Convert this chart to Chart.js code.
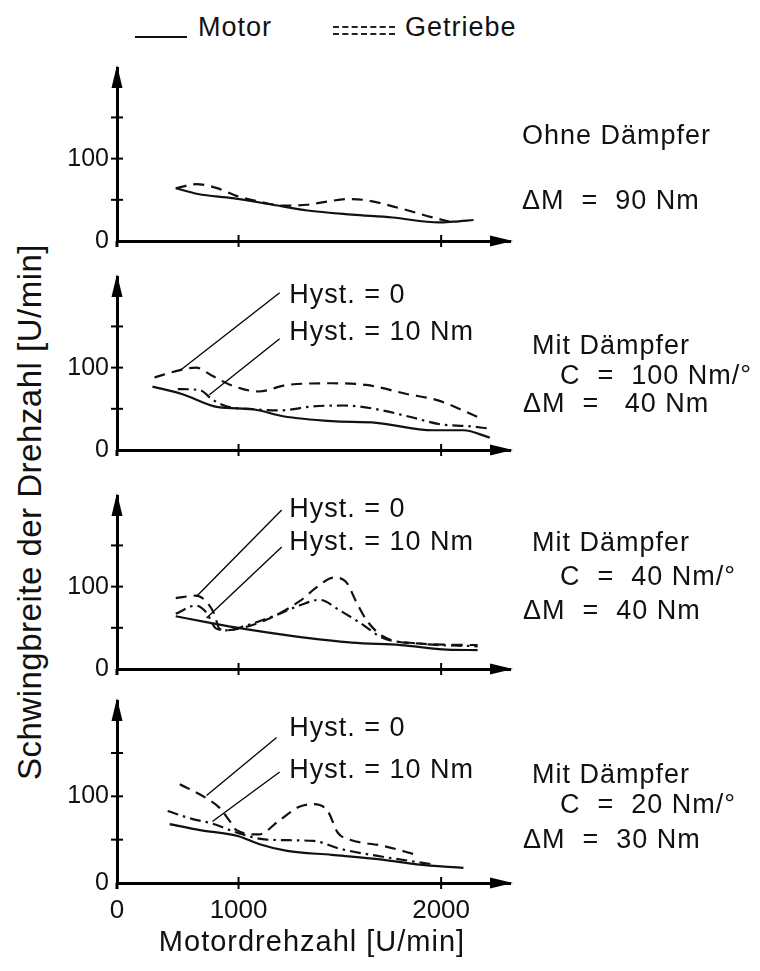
<!DOCTYPE html>
<html lang="de">
<head>
<meta charset="utf-8">
<title>Schwingbreite der Drehzahl</title>
<script src="https://cdn.jsdelivr.net/npm/chart.js@4.4.1/dist/chart.umd.min.js"></script>
<style>
  html, body { margin: 0; padding: 0; background: #fff; }
  body { width: 760px; height: 971px; position: relative; overflow: hidden;
         font-family: 'Liberation Sans', Arial, sans-serif; color: #111; }
  canvas.panel { position: absolute; left: 0; }
  .txt { position: absolute; white-space: pre; line-height: 1; letter-spacing: 1px; }
  .swatch { position: absolute; }
  #ytitle { position: absolute; left: 29px; top: 512px; white-space: nowrap;
            transform: translate(-50%, -50%) rotate(-90deg); font-size: 33px; letter-spacing: 0.5px; line-height: 1; }
</style>
</head>
<body>
<div id="ytitle">Schwingbreite der Drehzahl [U/min]</div>
<div class="swatch" style="left:135px;top:36px;width:52px;height:2px;background:#111"></div>
<div class="swatch" style="left:333px;top:26px;width:62px;height:5px;border-top:2px dashed #222;border-bottom:2px dashed #222"></div>

<canvas class="panel" id="p1"></canvas>
<canvas class="panel" id="p2"></canvas>
<canvas class="panel" id="p3"></canvas>
<canvas class="panel" id="p4"></canvas>

<script>
// --- Daten -------------------------------------------------------------
// Achsen
const xTickValues = [1000, 2000];
const yTickValues = [50, 100, 150];
const yLabelValues = [0, 100];
// Die Drehzahlachse ist am Ursprung unterbrochen: der Ursprung steht für ca. 400 U/min
const xOrigin = 400;

// Ohne Dämpfer
const p1MotorRpm = [690, 800, 970, 1170, 1340, 1560, 1760, 1990, 2060, 2160];
const p1Motor = [64, 57, 52, 44, 37, 32, 28.5, 22.5, 23.5, 25.5];
const p1GetriebeRpm = [690, 790, 890, 1000, 1100, 1220, 1340, 1440, 1540, 1630, 1800, 1960, 2040];
const p1Getriebe = [64, 69, 64.5, 54, 48, 43, 44, 48, 51, 49.5, 39.5, 28.5, 23.5];

// Mit Dämpfer, C = 100 Nm/°
const p2MotorRpm = [575, 720, 900, 1070, 1220, 1460, 1680, 1960, 2110, 2240];
const p2Motor = [77, 68, 52, 49.5, 41, 35, 33, 24, 24, 15];
const p2Hyst0Rpm = [585, 710, 790, 870, 970, 1100, 1240, 1460, 1630, 1830, 1980, 2190];
const p2Hyst0 = [88, 97, 100, 90, 78, 71, 79, 81, 79, 68, 60.5, 39];
const p2Hyst10Rpm = [700, 810, 870, 940, 1070, 1200, 1370, 1520, 1660, 1850, 2000, 2130, 2240];
const p2Hyst10 = [74, 72.5, 61.5, 53, 49.5, 48, 53, 54, 50.5, 40, 31, 29, 26];

// Mit Dämpfer, C = 40 Nm/°
const p3MotorRpm = [690, 860, 1020, 1270, 1560, 1800, 2030, 2180];
const p3Motor = [64, 56, 49, 40, 32, 29, 23.5, 23];
const p3Hyst0Rpm = [690, 790, 840, 880, 905, 940, 1020, 1140, 1300, 1390, 1470, 1530, 1580, 1630, 1710, 1880, 2180];
const p3Hyst0 = [86, 89, 82, 67, 49, 47, 50, 60, 82, 100, 111, 106, 82, 60, 40, 31, 29];
const p3Hyst10Rpm = [690, 790, 840, 890, 940, 1040, 1170, 1300, 1400, 1500, 1600, 1710, 1880, 2180];
const p3Hyst10 = [67, 77, 69, 49, 47, 53, 64, 77, 84, 71, 56, 38, 31, 27.5];

// Mit Dämpfer, C = 20 Nm/°
const p4MotorRpm = [660, 810, 1000, 1100, 1240, 1460, 1710, 1880, 2110];
const p4Motor = [68, 61, 54, 45, 37, 32.5, 27, 21.5, 17.5];
const p4Hyst0Rpm = [710, 840, 905, 955, 990, 1100, 1200, 1300, 1370, 1440, 1490, 1550, 1710, 1880];
const p4Hyst0 = [114, 98, 87, 72, 61, 56, 72, 88, 91, 83, 58, 50, 43, 32.5];
const p4Hyst10Rpm = [650, 770, 870, 1000, 1140, 1370, 1500, 1680, 1960];
const p4Hyst10 = [83, 74, 68.5, 57.5, 50, 48.5, 39.5, 31.5, 21.5];

// --- Darstellung --------------------------------------------------------
const FONT = "'Liberation Sans', Arial, sans-serif";
const X_MAX = 2340, Y_MAX = 210;
const PLOT_H = 193, PAD_TOP = 12;

const SOLID = [];
const DASHED = [11, 7];
const DASHDOT = [11, 5, 2.5, 5];

function pts(xs, ys) {
    return xs.map((x, i) => ({ x: x, y: ys[i] }));
}

function line(label, xs, ys, dash) {
    return {
        label: label,
        data: pts(xs, ys),
        borderColor: '#111',
        borderWidth: 2.2,
        borderDash: dash,
        pointRadius: 0,
        fill: false,
        cubicInterpolationMode: 'monotone'
    };
}

// Pfeile, Teilstriche, Hinweislinien
const axisDeco = {
    id: 'axisDeco',
    afterDraw(chart, args, opts) {
        const { ctx, chartArea: a, scales: { x, y } } = chart;
        ctx.save();
        ctx.fillStyle = '#000';
        ctx.strokeStyle = '#000';

        // Pfeilspitzen
        ctx.beginPath();
        ctx.moveTo(a.left, a.top - 3);
        ctx.lineTo(a.left - 5.5, a.top + 20);
        ctx.lineTo(a.left + 5.5, a.top + 20);
        ctx.closePath();
        ctx.fill();
        ctx.beginPath();
        ctx.moveTo(a.right + 3, a.bottom);
        ctx.lineTo(a.right - 20, a.bottom - 5.5);
        ctx.lineTo(a.right - 20, a.bottom + 5.5);
        ctx.closePath();
        ctx.fill();

        // Achse etwas unter den Ursprung verlängern
        ctx.lineWidth = 3;
        ctx.beginPath();
        ctx.moveTo(a.left, a.bottom);
        ctx.lineTo(a.left, a.bottom + 6);
        ctx.stroke();

        // Teilstriche über die Achse
        ctx.lineWidth = 2;
        yTickValues.forEach(v => {
            const py = y.getPixelForValue(v);
            ctx.beginPath();
            ctx.moveTo(a.left - 6, py);
            ctx.lineTo(a.left + 6, py);
            ctx.stroke();
        });
        xTickValues.forEach(v => {
            const px = x.getPixelForValue(v);
            ctx.beginPath();
            ctx.moveTo(px, a.bottom - 6);
            ctx.lineTo(px, a.bottom + 6);
            ctx.stroke();
        });

        // Beschriftung Hyst. mit Hinweislinien
        ctx.lineWidth = 1.3;
        ctx.font = '27px ' + FONT;
        ctx.letterSpacing = '1px';
        ctx.textBaseline = 'alphabetic';
        ctx.textAlign = 'left';
        ctx.fillStyle = '#111';
        (opts.notes || []).forEach(n => {
            ctx.beginPath();
            ctx.moveTo(x.getPixelForValue(n.from[0]), y.getPixelForValue(n.from[1]));
            ctx.lineTo(x.getPixelForValue(n.to[0]), y.getPixelForValue(n.to[1]));
            ctx.stroke();
            ctx.fillText(n.text, x.getPixelForValue(n.at[0]), y.getPixelForValue(n.at[1]));
        });
        ctx.restore();
    }
};

function makePanel(id, axisY, datasets, notes, showX) {
    const bottomH = showX ? 45 : 14;
    const canvas = document.getElementById(id);
    canvas.width = 760;
    canvas.height = PAD_TOP + PLOT_H + bottomH;
    canvas.style.top = (axisY - PAD_TOP - PLOT_H) + 'px';

    new Chart(canvas.getContext('2d'), {
        type: 'line',
        data: { datasets: datasets },
        options: {
            responsive: false,
            animation: false,
            devicePixelRatio: 1,
            layout: { padding: { top: PAD_TOP, right: 250, left: 0, bottom: 0 } },
            plugins: {
                legend: { display: false },
                tooltip: { enabled: false },
                axisDeco: { notes: notes }
            },
            scales: {
                x: {
                    type: 'linear',
                    min: xOrigin,
                    max: X_MAX,
                    grid: { display: false, drawTicks: false },
                    border: { display: true, width: 3, color: '#000' },
                    afterBuildTicks: s => { s.ticks = [xOrigin].concat(xTickValues).map(v => ({ value: v })); },
                    afterFit: s => { s.height = bottomH; },
                    ticks: {
                        display: showX,
                        autoSkip: false,
                        maxRotation: 0,
                        padding: 12,
                        color: '#111',
                        font: { size: 26, family: FONT },
                        // Ursprung der unterbrochenen Achse wird mit 0 beschriftet
                        callback: v => (v === xOrigin ? '0' : String(v))
                    }
                },
                y: {
                    type: 'linear',
                    min: 0,
                    max: Y_MAX,
                    grid: { display: false, drawTicks: false },
                    border: { display: true, width: 3, color: '#000' },
                    afterFit: s => { s.width = 117; },
                    ticks: {
                        stepSize: 50,
                        padding: 8,
                        color: '#111',
                        font: { size: 25, family: FONT },
                        callback: v => (yLabelValues.includes(v) ? String(v) : '')
                    }
                }
            }
        },
        plugins: [axisDeco]
    });
}

makePanel('p1', 250, [
    line('Motor', p1MotorRpm, p1Motor, SOLID),
    line('Getriebe', p1GetriebeRpm, p1Getriebe, DASHED)
], [], false);

makePanel('p2', 459, [
    line('Motor', p2MotorRpm, p2Motor, SOLID),
    line('Getriebe, Hyst. = 0', p2Hyst0Rpm, p2Hyst0, DASHED),
    line('Getriebe, Hyst. = 10 Nm', p2Hyst10Rpm, p2Hyst10, DASHDOT)
], [
    { text: 'Hyst. = 0', at: [1250, 178], from: [1203, 191], to: [708, 96] },
    { text: 'Hyst. = 10 Nm', at: [1250, 133], from: [1203, 135], to: [856, 67] }
], false);

makePanel('p3', 678, [
    line('Motor', p3MotorRpm, p3Motor, SOLID),
    line('Getriebe, Hyst. = 0', p3Hyst0Rpm, p3Hyst0, DASHED),
    line('Getriebe, Hyst. = 10 Nm', p3Hyst10Rpm, p3Hyst10, DASHDOT)
], [
    { text: 'Hyst. = 0', at: [1250, 185], from: [1213, 193], to: [792, 88] },
    { text: 'Hyst. = 10 Nm', at: [1250, 145], from: [1213, 148], to: [842, 62] }
], false);

makePanel('p4', 883, [
    line('Motor', p4MotorRpm, p4Motor, SOLID),
    line('Getriebe, Hyst. = 0', p4Hyst0Rpm, p4Hyst0, DASHED),
    line('Getriebe, Hyst. = 10 Nm', p4Hyst10Rpm, p4Hyst10, DASHDOT)
], [
    { text: 'Hyst. = 0', at: [1250, 170], from: [1188, 168], to: [842, 101] },
    { text: 'Hyst. = 10 Nm', at: [1250, 121], from: [1203, 128], to: [871, 71] }
], true);

// Texte außerhalb der Diagramme (links, Grundlinie, Größe)
const texts = [
    ['Motor', 198, 37, 27],
    ['Getriebe', 405, 37, 27],
    ['Ohne Dämpfer', 522, 145, 27],
    ['ΔM  =  90 Nm', 522, 210, 27],
    ['Mit Dämpfer', 532, 355, 27],
    ['C  =  100 Nm/°', 560, 385, 27],
    ['ΔM  =   40 Nm', 523, 413, 27],
    ['Mit Dämpfer', 532, 552, 27],
    ['C  =  40 Nm/°', 560, 586, 27],
    ['ΔM  =  40 Nm', 523, 620, 27],
    ['Mit Dämpfer', 532, 784, 27],
    ['C  =  20 Nm/°', 560, 814, 27],
    ['ΔM  =  30 Nm', 523, 849, 27]
];
texts.forEach(([t, left, base, size]) => {
    const d = document.createElement('div');
    d.className = 'txt';
    d.textContent = t;
    d.style.left = left + 'px';
    d.style.top = (base - Math.round(size * 0.85)) + 'px';
    d.style.fontSize = size + 'px';
    document.body.appendChild(d);
});

// Achsentitel unten
const xt = document.createElement('div');
xt.className = 'txt';
xt.textContent = 'Motordrehzahl [U/min]';
xt.style.fontSize = '29px';
xt.style.left = '312px';
xt.style.top = (952 - 25) + 'px';
xt.style.transform = 'translateX(-50%)';
document.body.appendChild(xt);
</script>
</body>
</html>
